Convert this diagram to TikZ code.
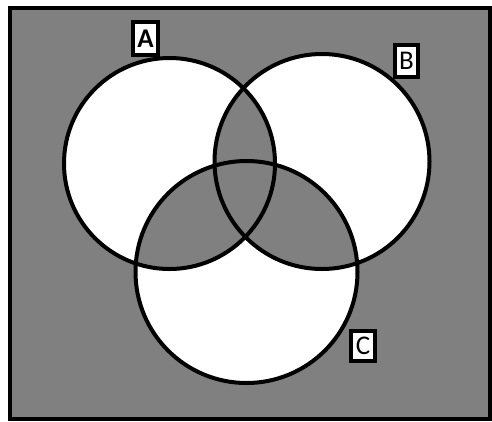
\documentclass[tikz,border=0pt]{standalone}
\usepackage{fontspec}
\setmainfont{Carlito}
\definecolor{bg}{RGB}{128,128,128}
\begin{document}
\begin{tikzpicture}[x=1pt,y=-1pt]
\tikzset{
  ring/.style={draw=black,line width=4pt},
  tag/.style={draw=black,fill=white,line width=4pt,inner sep=0pt,
    minimum width=24pt,minimum height=32pt,font=\fontsize{27}{27}\selectfont}
}
\useasboundingbox (0,0) rectangle (492,421);
\coordinate (ca) at (169.5,163.5);
\coordinate (cb) at (322,161.5);
\coordinate (cc) at (246.5,272);
\fill[bg] (9.5,7.5) rectangle (489.5,418.5);
\fill[white] (ca) circle (105.5pt);
\fill[white] (cb) circle (107.5pt);
\fill[white] (cc) circle (111pt);
\begin{scope}
  \clip (ca) circle (105.5pt);
  \fill[bg] (cb) circle (107.5pt);
  \fill[bg] (cc) circle (111pt);
\end{scope}
\begin{scope}
  \clip (cb) circle (107.5pt);
  \fill[bg] (cc) circle (111pt);
\end{scope}
\draw[ring] (ca) circle (105.5pt);
\draw[ring] (cb) circle (107.5pt);
\draw[ring] (cc) circle (111pt);
\draw[black,line width=4pt] (9.5,7.5) rectangle (489.5,418.5);
\node[tag,minimum width=25pt,minimum height=33pt,font=\fontsize{27}{27}\selectfont\bfseries] (la) at (145.5,38.5) {A};
\node[tag,minimum width=23pt,minimum height=32pt] (lb) at (406.5,61) {B};
\node[tag,minimum width=24pt,minimum height=30pt] (lc) at (363,346) {C};
\end{tikzpicture}
\end{document}
